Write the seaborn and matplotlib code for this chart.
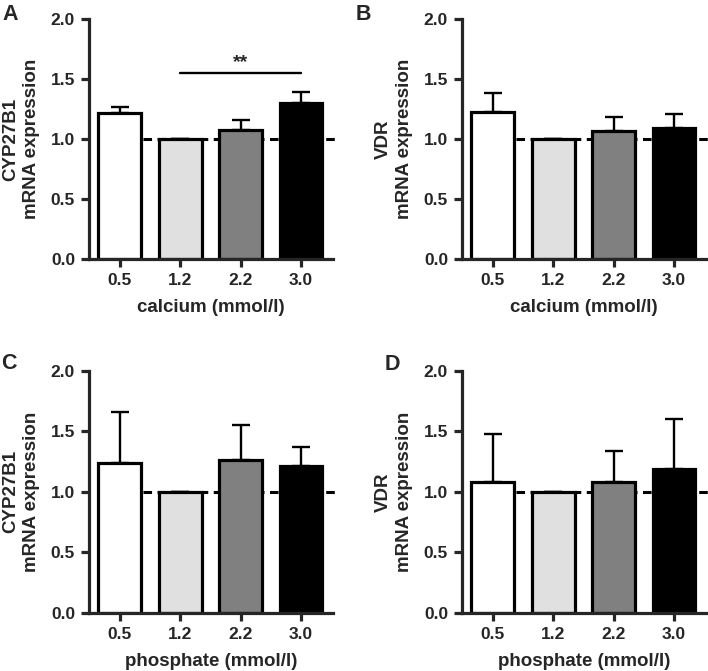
import matplotlib
matplotlib.use("Agg")
import matplotlib.pyplot as plt
import seaborn as sns
import numpy as np
import pandas as pd

sns.set_style("ticks")
plt.rcParams['font.family'] = ['Liberation Sans', 'DejaVu Sans']
plt.rcParams['font.weight'] = 'bold'

# ---- data ----
concentrations = ["0.5", "1.2", "2.2", "3.0"]
bar_colors = ["#ffffff", "#e0e0e0", "#808080", "#000000"]

a_mean = [1.22, 1.00, 1.075, 1.30]
a_err = [0.05, 0.0, 0.085, 0.095]
b_mean = [1.225, 1.00, 1.07, 1.09]
b_err = [0.155, 0.0, 0.115, 0.115]
c_mean = [1.24, 1.00, 1.26, 1.215]
c_err = [0.42, 0.0, 0.29, 0.16]
d_mean = [1.085, 1.00, 1.08, 1.19]
d_err = [0.39, 0.0, 0.26, 0.41]

panel_letters = ["A", "B", "C", "D"]
y_genes = ["CYP27B1", "VDR", "CYP27B1", "VDR"]
x_labels = ["calcium (mmol/l)", "calcium (mmol/l)",
            "phosphate (mmol/l)", "phosphate (mmol/l)"]
y_ticks = [0.0, 0.5, 1.0, 1.5, 2.0]
y_ticklabels = ["0.0", "0.5", "1.0", "1.5", "2.0"]
sig_text = "**"
sig_level = 1.55

W, H = 708, 671
fig = plt.figure(figsize=(W / 100, H / 100), dpi=100)

ax_w = 244 / W
rects = [
    [89 / W, 1 - 259 / H, ax_w, 240 / H],
    [462 / W, 1 - 259 / H, ax_w, 240 / H],
    [89 / W, 1 - 612.7 / H, ax_w, 241.7 / H],
    [462 / W, 1 - 612.7 / H, ax_w, 241.7 / H],
]
letter_pos = [(10, 14), (363, 14), (9, 363), (392, 365)]

means = [a_mean, b_mean, c_mean, d_mean]
errs = [a_err, b_err, c_err, d_err]

LW = 2.3
for i in range(4):
    ax = fig.add_axes(rects[i])
    df = pd.DataFrame({"conc": concentrations, "val": means[i]})
    # dashed reference line at 1.0 (behind bars)
    ax.plot([0.38, 3.6], [1.0, 1.0], color="black", lw=2.2,
            linestyle=(0, (2.8, 1.8)), zorder=0.5, clip_on=False)
    sns.barplot(data=df, x="conc", y="val", hue="conc", palette=bar_colors,
                legend=False, edgecolor="black", linewidth=LW, width=0.71,
                ax=ax, zorder=2, errorbar=None)
    xs = np.arange(len(concentrations))
    lower = np.zeros(len(concentrations))
    ax.errorbar(xs, means[i], yerr=[lower, errs[i]], fmt="none",
                ecolor="black", elinewidth=1.7, capsize=6.5, capthick=1.7,
                zorder=1.5)
    ax.set_ylim(0, 2.0)
    ax.set_xlim(-0.51, 3.53)
    ax.set_yticks(y_ticks)
    ax.set_yticklabels(y_ticklabels)
    sns.despine(ax=ax)
    for s in ["left", "bottom"]:
        ax.spines[s].set_linewidth(LW)
    ax.tick_params(axis="both", direction="out", length=6, width=LW,
                   labelsize=12.5, pad=4)
    for lab in ax.get_xticklabels() + ax.get_yticklabels():
        lab.set_fontweight("bold")
    ax.set_xlabel(x_labels[i], fontsize=13.5, fontweight="bold", labelpad=8)
    ax.set_ylabel(y_genes[i] + "\nmRNA expression", fontsize=13.5,
                  fontweight="bold", labelpad=8, linespacing=1.25)
    fig.text(letter_pos[i][0] / W, 1 - letter_pos[i][1] / H, panel_letters[i],
             fontsize=15.5, fontweight="bold", ha="center", va="center")
    if i == 0:
        ax.plot([1, 3], [sig_level, sig_level], color="black", lw=1.7)
        ax.text(2, sig_level + 0.02, sig_text, ha="center", va="bottom",
                fontsize=14, fontweight="bold")

fig.savefig("out.png", dpi=100)
